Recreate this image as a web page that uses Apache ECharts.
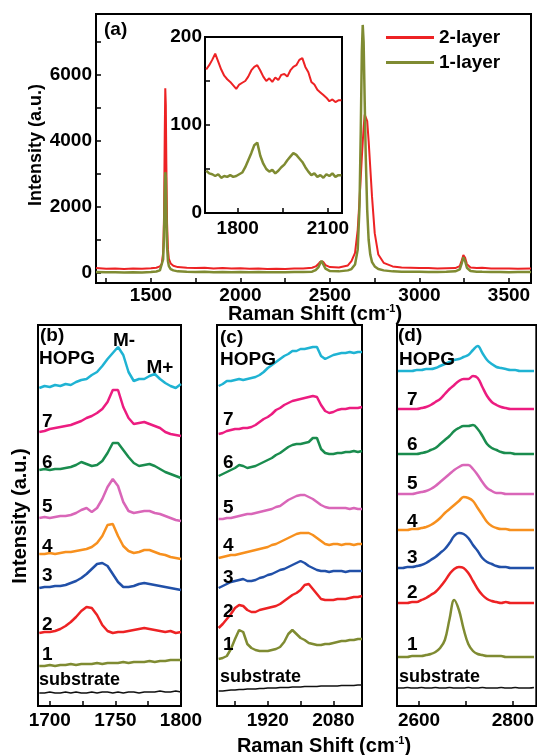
<!DOCTYPE html>
<html>
<head>
<meta charset="utf-8">
<script src="https://cdn.jsdelivr.net/npm/echarts@6/dist/echarts.min.js"></script>
<style>
  html, body { margin: 0; padding: 0; background: #fff; }
  #main { width: 537px; height: 755px; }
</style>
</head>
<body>
<div id="main"></div>
<script>
// ---- panel (a): full spectra ----
var aX = [1193,1250,1300,1350,1400,1450,1500,1530,1550,1560,1568,1573,1577,1580,1583,1586,1590,1595,1600,1610,1625,1650,1700,1750,1800,1850,1900,1950,2000,2050,2100,2150,2200,2250,2300,2350,2400,2420,2435,2445,2453,2462,2475,2500,2550,2600,2620,2640,2655,2665,2672,2678,2683,2688,2694,2700,2708,2716,2725,2735,2750,2770,2800,2850,2900,2950,3000,3050,3100,3150,3200,3225,3237,3245,3250,3255,3265,3285,3320,3350,3400,3450,3500,3550,3623];
var aTwoLayer = [140,120,130,115,125,120,135,150,190,260,600,1700,4200,5600,5100,3300,1500,700,420,280,210,170,150,140,150,130,140,125,135,120,130,115,120,110,125,130,150,190,260,330,380,330,230,170,160,220,350,600,1300,2200,2900,3500,3950,4400,4800,4850,4600,4000,3200,2300,1200,550,300,190,160,150,140,140,130,135,140,200,380,540,560,450,260,160,140,150,130,125,130,120,125];
var aOneLayer = [20,10,15,5,10,5,20,35,70,130,400,1100,2400,3050,2900,1900,800,350,200,110,70,40,25,20,25,15,20,10,20,15,20,10,15,10,20,20,30,80,160,280,360,260,120,50,40,70,110,250,700,2000,4300,6700,7520,7000,5200,3500,1900,1000,550,320,190,110,70,40,30,30,25,20,20,25,40,100,300,470,480,350,150,50,30,25,20,20,15,20,20];
var aXLabels = [1500,2000,2500,3000,3500];
var aXTicks = [1250,1500,1750,2000,2250,2500,2750,3000,3250,3500];
var aYLabels = [0,2000,4000,6000];
var aYTicks = [0,1000,2000,3000,4000,5000,6000,7000];

// ---- inset ----
var inX = [1695,1705,1715,1725,1735,1745,1755,1765,1775,1785,1795,1805,1815,1825,1835,1845,1855,1865,1875,1885,1895,1905,1915,1925,1935,1945,1955,1965,1975,1985,1995,2005,2015,2025,2035,2045,2055,2065,2075,2085,2095,2105,2115,2125,2135,2145];
var inTwoLayer = [163,168,174,181,172,163,156,152,149,145,141,146,148,150,155,162,166,168,162,155,150,153,149,154,151,157,158,155,162,166,168,174,176,166,160,149,146,140,137,134,131,127,129,126,128,128];
var inOneLayer = [48,45,44,42,44,40,42,41,43,41,42,44,46,52,60,68,77,80,65,56,50,47,49,45,48,52,55,60,64,68,66,62,58,52,47,43,45,41,43,40,44,42,45,41,43,43];

// ---- panel (b): M band ----
var bX = [1692,1696,1700,1704,1708,1712,1716,1720,1724,1728,1732,1736,1740,1744,1748,1752,1756,1760,1764,1768,1772,1776,1780,1784,1788,1792,1796,1800];
var bHOPG = [318,320,319,321,320,322,321,324,326,327,331,334,340,347,353,359,351,334,325,327,327,330,332,327,323,320,318,322];
var b7 = [274,275,277,278,279,280,281,283,285,288,290,293,297,304,316,316,299,288,282,283,284,282,280,278,274,272,271,270];
var b6 = [236,237,236,237,237,238,239,241,244,242,240,241,245,253,263,263,256,249,243,240,241,242,240,237,234,232,230,228];
var b5 = [188,189,188,189,190,190,191,193,196,198,194,198,207,219,227,220,204,195,193,194,195,195,193,192,190,188,186,185];
var b4 = [152,152,153,152,153,154,154,155,156,157,159,163,170,181,182,170,160,155,153,154,156,156,154,152,151,149,148,147];
var b3 = [118,119,119,120,120,121,123,125,128,132,137,142,143,140,132,124,119,119,120,122,123,122,121,120,119,118,117,116];
var b2 = [73,74,74,75,77,80,84,89,95,99,98,91,81,75,73,74,74,75,76,77,78,77,76,75,74,75,73,74];
var b1 = [40,40,41,40,41,41,42,41,42,42,42,43,42,43,43,43,44,43,44,44,44,45,44,45,45,46,46,46];
var bSub = [13,13,14,13,13,14,13,14,13,13,14,13,14,14,13,14,13,14,14,13,14,14,14,15,14,14,15,14];

// ---- panel (c): combination modes ----
var cX = [1800,1810,1820,1830,1840,1850,1860,1870,1880,1890,1900,1910,1920,1930,1940,1950,1960,1970,1980,1990,2000,2010,2020,2030,2040,2050,2060,2070,2080,2090,2100,2110,2120,2130,2140,2150];
var cHOPG = [320,322,325,325,326,327,326,327,328,329,331,334,338,341,344,347,350,352,355,355,357,357,358,359,359,350,347,349,351,352,353,353,354,353,354,354];
var c7 = [272,273,275,276,277,277,278,278,279,281,284,287,289,292,296,298,301,303,305,306,307,308,309,310,309,301,295,293,294,296,297,297,298,298,298,299];
var c6 = [230,232,234,236,238,241,240,238,239,240,242,244,246,248,251,253,256,259,261,262,262,263,264,268,268,257,253,252,252,253,253,254,254,255,254,255];
var c5 = [187,187,188,188,189,190,191,192,192,193,194,195,196,197,199,200,203,206,208,210,211,211,209,207,204,201,199,198,198,198,198,198,197,198,197,197];
var c4 = [148,149,150,151,151,152,153,154,155,156,157,158,159,161,162,164,166,168,170,172,173,173,173,171,168,165,162,161,162,162,161,162,162,161,162,162];
var c3 = [118,120,122,124,125,126,127,125,125,126,128,129,131,132,134,136,137,139,141,143,145,143,140,138,136,135,135,134,135,135,135,134,135,135,135,135];
var c2 = [78,82,87,92,98,101,100,96,94,94,96,97,98,99,100,102,105,108,111,113,116,121,122,117,112,107,106,106,106,107,107,107,108,109,109,110];
var c1 = [47,48,50,57,67,76,74,62,58,56,55,55,55,56,57,59,64,72,76,72,68,66,63,62,61,61,62,62,63,64,65,65,66,66,67,67];
var cSub = [15,15,15.5,16,16,16.5,16.5,17,17,17,17.5,17.5,18,18,18,18.5,18.5,18.5,19,19,19,19.5,19.5,19.5,19.5,20,20,20,20,20,20.5,20.5,20.5,20.5,21,21];

// ---- panel (d): 2D band ----
var dX = [2555,2565,2575,2585,2595,2605,2615,2625,2635,2645,2655,2665,2675,2685,2695,2705,2715,2725,2735,2745,2755,2765,2775,2785,2795,2805,2815,2825,2835,2845];
var dHOPG = [335,335,335,335,336,336,337,337,338,340,342,344,346,347,349,351,356,360,353,346,342,339,338,337,336,336,335,335,335,335];
var d7 = [297,297,297,297,297,298,299,301,304,307,312,317,321,325,327,327,330,328,319,310,304,301,299,298,297,297,297,297,297,297];
var d6 = [252,252,252,252,252,253,254,256,258,262,266,270,275,278,280,280,281,277,270,262,258,256,254,253,253,252,252,252,252,252];
var d5 = [212,212,212,212,213,214,215,217,220,224,228,232,236,239,241,241,237,231,224,218,215,213,213,212,212,212,212,212,212,212];
var d4 = [176,176,176,177,177,178,179,181,184,188,193,197,201,205,209,208,205,198,191,184,180,178,177,177,176,176,176,176,176,176];
var d3 = [138,138,139,139,140,141,143,146,149,153,157,163,170,173,172,168,161,155,148,144,142,140,139,139,138,138,138,138,138,138];
var d2 = [103,103,103,104,104,106,108,111,114,119,125,132,137,139,138,133,125,117,111,107,105,104,103,104,103,103,103,103,103,103];
var d1 = [49,49,49,50,50,50,51,52,54,58,66,87,106,96,77,62,55,52,51,50,50,50,50,49,49,49,49,49,49,49];
var dSub = [18,18,18.5,18,18,18.5,18,18,18.5,18,18,18.5,18,18,18,18.5,18,18,18.5,18,18,18,18.5,18,18,18.5,18,18,18,18.5];

var bLabels = [1700,1750,1800];
var bTicks = [1700,1725,1750,1775];
var cLabels = [1920,2080];
var cTicks = [1840,1920,2000,2080];
var dLabels = [2600,2800];
var dTicks = [2600,2700,2800];

var layerNames = ['HOPG','7','6','5','4','3','2','1','substrate'];
var layerColors = ['#1fb3d3','#ec1c80','#1a8c4e','#d966b8','#f7901e','#2150a8','#ed2224','#7f8b32','#111111'];

var FONT = '"Liberation Sans", Arial, sans-serif';

function zip(xs, ys) {
    return xs.map(function (x, i) { return [x, ys[i]]; });
}

function plain(v) {
    return String(v);
}

function xAxisOf(grid, min, max, labels, ticks, margin) {
    return {
        type: 'value', gridIndex: grid, min: min, max: max,
        axisLine: {show: true, onZero: false, lineStyle: {color: '#000', width: 2}},
        axisTick: {show: true, inside: true, length: 5, customValues: ticks, lineStyle: {color: '#000', width: 1.5}},
        axisLabel: {show: true, customValues: labels, margin: margin, formatter: plain,
            color: '#000', fontFamily: FONT, fontWeight: 'bold', fontSize: 19},
        splitLine: {show: false}
    };
}

function txt(x, y, s, size, align, rot) {
    return {
        type: 'text', x: x, y: y, rotation: rot || 0, z: 100,
        style: {
            text: s, fill: '#000', align: align || 'left', verticalAlign: 'middle',
            fontFamily: FONT, fontWeight: 'bold', fontSize: size || 19
        }
    };
}

function xTitle(x, y) {
    return {
        type: 'text', x: x, y: y, z: 100,
        style: {
            text: '{a|Raman Shift (cm}{s|-1}{a|)}', align: 'center', verticalAlign: 'middle',
            rich: {
                a: {fontFamily: FONT, fontWeight: 'bold', fontSize: 20, fill: '#000', lineHeight: 22},
                s: {fontFamily: FONT, fontWeight: 'bold', fontSize: 11, fill: '#000', verticalAlign: 'top', lineHeight: 22, padding: [0, 0, 10, 0]}
            }
        }
    };
}

var chart = echarts.init(document.getElementById('main'));

var grids = [
    {left: 96, top: 14, width: 435, height: 269},
    {left: 205, top: 37, width: 137, height: 176},
    {left: 38, top: 325, width: 143, height: 381},
    {left: 217, top: 325, width: 145, height: 381},
    {left: 397, top: 325, width: 146, height: 381}
].map(function (g) {
    g.show = true;
    g.borderColor = '#000';
    g.borderWidth = 2;
    g.backgroundColor = '#fff';
    return g;
});

var xAxes = [
    xAxisOf(0, 1193, 3623, aXLabels, aXTicks, 3),
    xAxisOf(1, 1691, 2147, [1800, 2100], [1800, 1950, 2100], 6),
    xAxisOf(2, 1691, 1800, bLabels, bTicks, 5),
    xAxisOf(3, 1796, 2150, cLabels, cTicks, 5),
    xAxisOf(4, 2553, 2850, dLabels, dTicks, 5)
];

var yAxes = [
    {
        type: 'value', gridIndex: 0, min: -313, max: 7852,
        axisLine: {show: true, lineStyle: {color: '#000', width: 2}},
        axisTick: {show: true, inside: true, length: 5, customValues: aYTicks, lineStyle: {color: '#000', width: 1.5}},
        axisLabel: {customValues: aYLabels, margin: 4, formatter: plain, color: '#000', fontFamily: FONT, fontWeight: 'bold', fontSize: 19},
        splitLine: {show: false}
    },
    {
        type: 'value', gridIndex: 1, min: 0, max: 200,
        axisLine: {show: true, lineStyle: {color: '#000', width: 2}},
        axisTick: {show: true, inside: true, length: 5, customValues: [50, 100, 150], lineStyle: {color: '#000', width: 1.5}},
        axisLabel: {customValues: [0, 100, 200], margin: 3, formatter: plain, color: '#000', fontFamily: FONT, fontWeight: 'bold', fontSize: 19},
        splitLine: {show: false}
    }
];
[2, 3, 4].forEach(function (g) {
    yAxes.push({
        type: 'value', gridIndex: g, min: 0, max: 381,
        axisLine: {show: true, lineStyle: {color: '#000', width: 2}},
        axisTick: {show: false}, axisLabel: {show: false}, splitLine: {show: false}
    });
});

var series = [
    {name: '2-layer', type: 'line', xAxisIndex: 0, yAxisIndex: 0, data: zip(aX, aTwoLayer), showSymbol: false,
        lineStyle: {color: '#ed2224', width: 2}, itemStyle: {color: '#ed2224'}},
    {name: '1-layer', type: 'line', xAxisIndex: 0, yAxisIndex: 0, data: zip(aX, aOneLayer), showSymbol: false,
        lineStyle: {color: '#7f8b32', width: 2.5}, itemStyle: {color: '#7f8b32'}},
    {name: 'inset 2-layer', type: 'line', xAxisIndex: 1, yAxisIndex: 1, data: zip(inX, inTwoLayer), showSymbol: false,
        lineStyle: {color: '#ed2224', width: 2}},
    {name: 'inset 1-layer', type: 'line', xAxisIndex: 1, yAxisIndex: 1, data: zip(inX, inOneLayer), showSymbol: false,
        lineStyle: {color: '#7f8b32', width: 2.5}}
];

var panels = [
    {grid: 2, x: bX, curves: [bHOPG, b7, b6, b5, b4, b3, b2, b1, bSub], smooth: false},
    {grid: 3, x: cX, curves: [cHOPG, c7, c6, c5, c4, c3, c2, c1, cSub], smooth: false},
    {grid: 4, x: dX, curves: [dHOPG, d7, d6, d5, d4, d3, d2, d1, dSub], smooth: 0.4}
];
panels.forEach(function (p) {
    p.curves.forEach(function (ys, k) {
        series.push({
            name: 'p' + p.grid + ' ' + layerNames[k], type: 'line',
            xAxisIndex: p.grid, yAxisIndex: p.grid, data: zip(p.x, ys),
            showSymbol: false, smooth: p.smooth,
            lineStyle: {color: layerColors[k], width: k === 8 ? 1.5 : 2.5}
        });
    });
});

// panel annotations
var graphics = [
    txt(104, 30, '(a)'),
    txt(36, 145, 'Intensity (a.u.)', 18, 'center', Math.PI / 2),
    txt(20, 516, 'Intensity (a.u.)', 20, 'center', Math.PI / 2),
    xTitle(315, 314),
    xTitle(324, 746),
    txt(40, 336, '(b)'), txt(220, 338, '(c)'), txt(398, 336, '(d)'),
    txt(124, 341, 'M-', 19, 'center'), txt(160, 368, 'M+', 19, 'center')
];
var labelRows = [
    {x: 39, ys: [359, 422, 463, 507, 547, 576, 625, 655, 680]},
    {x: 220, ys: [360, 420, 463, 508, 546, 578, 612, 645, 677]},
    {x: 399, ys: [360, 400, 445, 484, 522, 558, 593, 645, 677]}
];
labelRows.forEach(function (r) {
    r.ys.forEach(function (y, k) {
        var s = layerNames[k];
        var dx = (s.length === 1) ? 3 : 0;
        if (r.x === 399 && s.length === 1) dx = 8;
        graphics.push(txt(r.x + dx, y, s, s === 'substrate' ? 18 : 19));
    });
});

var option = {
    animation: false,
    backgroundColor: '#fff',
    grid: grids,
    xAxis: xAxes,
    yAxis: yAxes,
    legend: {
        data: ['2-layer', '1-layer'],
        orient: 'vertical', left: 381, top: 23,
        icon: 'rect', itemWidth: 48, itemHeight: 3, itemGap: 6,
        textStyle: {color: '#000', fontFamily: FONT, fontWeight: 'bold', fontSize: 19}
    },
    series: series,
    graphic: graphics
};
chart.setOption(option);
</script>
</body>
</html>
